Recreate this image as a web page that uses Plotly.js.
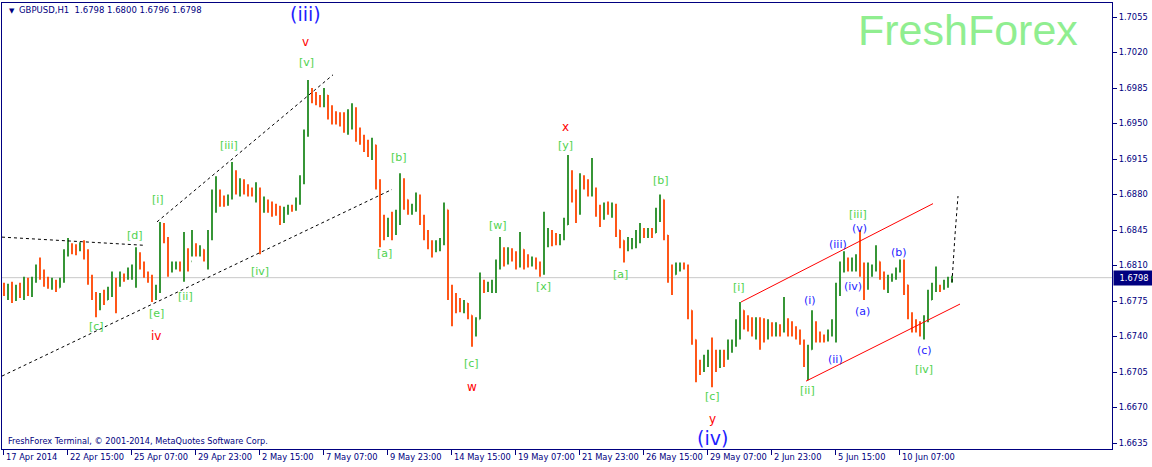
<!DOCTYPE html>
<html><head><meta charset="utf-8">
<script src="https://cdn.plot.ly/plotly-3.0.1.min.js"></script>
<style>html,body{margin:0;padding:0;background:#fff;}#chart{width:1152px;height:467px;}</style>
</head><body><div id="chart"></div>
<script>
// GBPUSD, bars aggregated to 4 hours
const openP = [
1.6788,1.6784,1.6788,1.6781,1.6787,1.6784,1.6793,1.6783,1.6794,1.6808,
1.6800,1.6795,1.6792,1.6795,1.6788,1.6794,1.6821,1.6829,1.6826,1.6826,
1.6829,1.6821,1.6796,1.6783,1.6771,1.6778,1.6776,1.6784,1.6796,1.6791,
1.6800,1.6798,1.6804,1.6806,1.6821,1.6811,1.6801,1.6796,1.6784,1.6786,
1.6845,1.6837,1.6808,1.6810,1.6811,1.6808,1.6821,1.6814,1.6830,1.6824,
1.6826,1.6818,1.6840,1.6875,1.6880,1.6875,1.6873,1.6877,1.6902,1.6887,
1.6893,1.6885,1.6883,1.6882,1.6885,1.6865,1.6872,1.6869,1.6865,1.6863,
1.6861,1.6862,1.6866,1.6865,1.6875,1.6895,1.6939,1.6983,1.6976,1.6973,
1.6971,1.6978,1.6962,1.6956,1.6954,1.6952,1.6949,1.6956,1.6964,1.6939,
1.6936,1.6929,1.6924,1.6929,1.6890,1.6847,1.6845,1.6850,1.6847,1.6853,
1.6895,1.6875,1.6867,1.6869,1.6877,1.6855,1.6840,1.6830,1.6826,1.6829,
1.6833,1.6865,1.6786,1.6773,1.6771,1.6770,1.6773,1.6761,1.6747,1.6757,
1.6791,1.6788,1.6790,1.6793,1.6808,1.6824,1.6816,1.6821,1.6818,1.6813,
1.6826,1.6814,1.6812,1.6815,1.6811,1.6806,1.6830,1.6837,1.6835,1.6835,
1.6837,1.6850,1.6899,1.6880,1.6865,1.6895,1.6892,1.6883,1.6885,1.6865,
1.6860,1.6868,1.6865,1.6869,1.6845,1.6835,1.6827,1.6832,1.6833,1.6840,
1.6843,1.6842,1.6844,1.6842,1.6860,1.6875,1.6840,1.6806,1.6801,1.6808,
1.6810,1.6809,1.6766,1.6737,1.6712,1.6709,1.6717,1.6721,1.6717,1.6715,
1.6722,1.6719,1.6732,1.6734,1.6752,1.6766,1.6755,1.6752,1.6747,1.6752,
1.6747,1.6742,1.6749,1.6744,1.6749,1.6747,1.6757,1.6747,1.6744,1.6742,
1.6735,1.6717,1.6727,1.6752,1.6739,1.6739,1.6737,1.6744,1.6752,1.6781,
1.6806,1.6813,1.6810,1.6813,1.6814,1.6806,1.6794,1.6806,1.6806,1.6814,
1.6801,1.6791,1.6796,1.6800,1.6804,1.6812,1.6791,1.6761,1.6752,1.6749,
1.6747,1.6757,1.6776,1.6786,1.6788,1.6787,1.6792,1.6795];
const highP = [
1.6793,1.6792,1.6794,1.6791,1.6793,1.6799,1.6798,1.6799,1.6811,1.6818,
1.6806,1.6799,1.6798,1.6796,1.6798,1.6826,1.6837,1.6832,1.6831,1.6833,
1.6835,1.6826,1.6801,1.6784,1.6783,1.6786,1.6789,1.6804,1.6798,1.6804,
1.6802,1.6808,1.6811,1.6828,1.6823,1.6814,1.6804,1.6801,1.6791,1.6853,
1.6852,1.6838,1.6814,1.6814,1.6814,1.6843,1.6827,1.6845,1.6832,1.6830,
1.6826,1.6845,1.6885,1.6898,1.6885,1.6879,1.6880,1.6912,1.6904,1.6896,
1.6895,1.6890,1.6887,1.6892,1.6887,1.6878,1.6875,1.6873,1.6871,1.6869,
1.6868,1.6870,1.6870,1.6877,1.6899,1.6944,1.6993,1.6985,1.6981,1.6978,
1.6985,1.6978,1.6968,1.6962,1.6961,1.6961,1.6964,1.6970,1.6966,1.6946,
1.6939,1.6934,1.6936,1.6929,1.6895,1.6860,1.6857,1.6863,1.6865,1.6901,
1.6896,1.6875,1.6871,1.6882,1.6880,1.6860,1.6845,1.6835,1.6835,1.6837,
1.6872,1.6865,1.6791,1.6783,1.6778,1.6776,1.6773,1.6761,1.6759,1.6803,
1.6796,1.6794,1.6796,1.6816,1.6838,1.6828,1.6828,1.6827,1.6824,1.6843,
1.6826,1.6821,1.6819,1.6818,1.6814,1.6863,1.6847,1.6845,1.6842,1.6841,
1.6857,1.6919,1.6904,1.6885,1.6901,1.6899,1.6895,1.6916,1.6887,1.6870,
1.6872,1.6873,1.6872,1.6871,1.6845,1.6835,1.6838,1.6837,1.6845,1.6852,
1.6847,1.6847,1.6847,1.6867,1.6880,1.6875,1.6840,1.6811,1.6813,1.6813,
1.6813,1.6811,1.6766,1.6737,1.6717,1.6722,1.6727,1.6739,1.6727,1.6727,
1.6727,1.6737,1.6737,1.6757,1.6774,1.6766,1.6761,1.6759,1.6759,1.6759,
1.6758,1.6757,1.6754,1.6754,1.6752,1.6779,1.6758,1.6755,1.6750,1.6747,
1.6737,1.6732,1.6766,1.6755,1.6745,1.6742,1.6747,1.6757,1.6793,1.6814,
1.6824,1.6818,1.6818,1.6821,1.6845,1.6813,1.6813,1.6811,1.6830,1.6814,
1.6804,1.6801,1.6802,1.6808,1.6816,1.6816,1.6791,1.6764,1.6757,1.6755,
1.6761,1.6786,1.6793,1.6809,1.6791,1.6796,1.6799,1.6800];
const lowP = [
1.6780,1.6776,1.6773,1.6775,1.6778,1.6776,1.6780,1.6779,1.6793,1.6796,
1.6789,1.6787,1.6786,1.6784,1.6788,1.6793,1.6819,1.6821,1.6820,1.6824,
1.6816,1.6791,1.6776,1.6759,1.6766,1.6771,1.6776,1.6779,1.6763,1.6789,
1.6794,1.6796,1.6796,1.6788,1.6806,1.6798,1.6793,1.6774,1.6776,1.6783,
1.6832,1.6799,1.6803,1.6806,1.6804,1.6794,1.6804,1.6819,1.6819,1.6819,
1.6814,1.6806,1.6835,1.6862,1.6868,1.6868,1.6869,1.6875,1.6880,1.6878,
1.6880,1.6878,1.6878,1.6872,1.6821,1.6862,1.6862,1.6858,1.6859,1.6850,
1.6852,1.6860,1.6863,1.6864,1.6870,1.6890,1.6937,1.6970,1.6968,1.6966,
1.6966,1.6954,1.6949,1.6949,1.6947,1.6941,1.6939,1.6944,1.6932,1.6929,
1.6922,1.6917,1.6914,1.6885,1.6828,1.6835,1.6838,1.6835,1.6840,1.6850,
1.6865,1.6860,1.6860,1.6863,1.6850,1.6835,1.6826,1.6818,1.6823,1.6824,
1.6830,1.6776,1.6750,1.6763,1.6764,1.6763,1.6757,1.6730,1.6740,1.6757,
1.6783,1.6784,1.6783,1.6783,1.6806,1.6809,1.6811,1.6814,1.6806,1.6808,
1.6806,1.6808,1.6809,1.6806,1.6799,1.6801,1.6828,1.6829,1.6830,1.6830,
1.6835,1.6850,1.6872,1.6852,1.6860,1.6885,1.6878,1.6878,1.6858,1.6848,
1.6855,1.6860,1.6857,1.6838,1.6827,1.6813,1.6824,1.6826,1.6827,1.6832,
1.6837,1.6837,1.6837,1.6842,1.6853,1.6835,1.6793,1.6781,1.6801,1.6804,
1.6806,1.6757,1.6732,1.6695,1.6702,1.6705,1.6710,1.6690,1.6705,1.6709,
1.6710,1.6717,1.6724,1.6730,1.6737,1.6747,1.6745,1.6740,1.6737,1.6727,
1.6734,1.6737,1.6740,1.6740,1.6740,1.6744,1.6740,1.6740,1.6737,1.6732,
1.6710,1.6697,1.6727,1.6734,1.6734,1.6734,1.6735,1.6740,1.6734,1.6780,
1.6803,1.6804,1.6804,1.6804,1.6799,1.6776,1.6786,1.6799,1.6804,1.6796,
1.6786,1.6783,1.6794,1.6796,1.6803,1.6781,1.6757,1.6744,1.6744,1.6740,
1.6737,1.6754,1.6776,1.6784,1.6784,1.6786,1.6788,1.6793];
const closeP = [
1.6784,1.6788,1.6781,1.6787,1.6784,1.6793,1.6783,1.6794,1.6808,1.6800,
1.6795,1.6792,1.6795,1.6788,1.6794,1.6821,1.6829,1.6826,1.6826,1.6829,
1.6821,1.6796,1.6783,1.6771,1.6778,1.6776,1.6784,1.6796,1.6791,1.6800,
1.6798,1.6804,1.6806,1.6821,1.6811,1.6801,1.6796,1.6784,1.6786,1.6845,
1.6837,1.6808,1.6810,1.6811,1.6808,1.6821,1.6814,1.6830,1.6824,1.6826,
1.6818,1.6840,1.6875,1.6880,1.6875,1.6873,1.6877,1.6902,1.6887,1.6893,
1.6885,1.6883,1.6882,1.6885,1.6865,1.6872,1.6869,1.6865,1.6863,1.6861,
1.6862,1.6866,1.6865,1.6875,1.6895,1.6939,1.6983,1.6976,1.6973,1.6971,
1.6978,1.6962,1.6956,1.6954,1.6952,1.6949,1.6956,1.6964,1.6939,1.6936,
1.6929,1.6924,1.6929,1.6890,1.6847,1.6845,1.6850,1.6847,1.6853,1.6895,
1.6875,1.6867,1.6869,1.6877,1.6855,1.6840,1.6830,1.6826,1.6829,1.6833,
1.6865,1.6786,1.6773,1.6771,1.6770,1.6773,1.6761,1.6747,1.6757,1.6791,
1.6788,1.6790,1.6793,1.6808,1.6824,1.6816,1.6821,1.6818,1.6813,1.6826,
1.6814,1.6812,1.6815,1.6811,1.6806,1.6830,1.6837,1.6835,1.6835,1.6837,
1.6850,1.6899,1.6880,1.6865,1.6895,1.6892,1.6883,1.6885,1.6865,1.6860,
1.6868,1.6865,1.6869,1.6845,1.6835,1.6827,1.6832,1.6833,1.6840,1.6843,
1.6842,1.6844,1.6842,1.6860,1.6875,1.6840,1.6806,1.6801,1.6808,1.6810,
1.6809,1.6766,1.6737,1.6712,1.6709,1.6717,1.6721,1.6717,1.6715,1.6722,
1.6719,1.6732,1.6734,1.6752,1.6766,1.6755,1.6752,1.6747,1.6752,1.6747,
1.6742,1.6749,1.6744,1.6749,1.6747,1.6757,1.6747,1.6744,1.6742,1.6735,
1.6717,1.6727,1.6752,1.6739,1.6739,1.6737,1.6744,1.6752,1.6781,1.6806,
1.6813,1.6810,1.6813,1.6814,1.6806,1.6794,1.6806,1.6806,1.6814,1.6801,
1.6791,1.6796,1.6800,1.6804,1.6812,1.6791,1.6761,1.6752,1.6749,1.6747,
1.6757,1.6776,1.6786,1.6788,1.6787,1.6792,1.6795,1.6798];

// date axis: tick positions in bar units (one bar = 4 hours, 16 bars = 64 hours)
const dateTickPos = [-0.25,15.75,31.75,47.75,63.75,79.75,95.75,111.75,127.75,143.75,159.75,175.75,191.75,207.75,223.75];
const dateTickText = ["17 Apr 2014","22 Apr 15:00","25 Apr 07:00","29 Apr 23:00","2 May 15:00","7 May 07:00","9 May 23:00","14 May 15:00","19 May 07:00","21 May 23:00","26 May 15:00","29 May 07:00","2 Jun 23:00","5 Jun 15:00","10 Jun 07:00"];
const priceTicks = [1.6635,1.6670,1.6705,1.6740,1.6775,1.6810,1.6845,1.6880,1.6915,1.6950,1.6985,1.7020,1.7055];
const lastPrice = 1.6798;

// wave labels: [text, bar position, price, style]
const waveLabels = [
 ["(iii)",75.25,1.7058,"bigblue"],["v",75.25,1.7030,"red"],["[v]",75.5,1.7010,"green"],
 ["[iii]",56.25,1.6928,"green"],["[i]",38.5,1.6875,"green"],["[d]",32.75,1.6840,"green"],
 ["[c]",23,1.6750,"green"],["[e]",38,1.6763,"green"],["iv",38,1.6741,"red"],
 ["[ii]",45.25,1.6779,"green"],["[iv]",64,1.6804,"green"],["[b]",98.75,1.6916,"green"],
 ["[a]",95,1.6822,"green"],["[c]",116.75,1.6713,"green"],["w",117,1.6690,"red"],
 ["[w]",123.5,1.6849,"green"],["[x]",134.75,1.6789,"green"],["[y]",140.25,1.6928,"green"],
 ["x",140.25,1.6947,"red"],["[b]",164.25,1.6894,"green"],["[a]",154,1.6801,"green"],
 ["[c]",177,1.6681,"green"],["y",177,1.6659,"red"],["(iv)",177,1.6640,"bigblue"],
 ["[i]",183.75,1.6788,"green"],["(i)",201.5,1.6776,"blue"],["(ii)",207.75,1.6717,"blue"],
 ["[ii]",200.75,1.6687,"green"],["(iii)",208.5,1.6831,"blue"],["[iii]",213.5,1.6860,"green"],
 ["(v)",213.75,1.6846,"blue"],["(iv)",212.25,1.6789,"blue"],["(a)",214.5,1.6765,"blue"],
 ["(b)",223.75,1.6823,"blue"],["(c)",230,1.6726,"blue"],["[iv]",230,1.6707,"green"]
];

// trend lines: [x0, y0, x1, y1, color, dash]
const trendLines = [
 [-0.5,1.6838,34.75,1.6830,"#000000","dot"],
 [-0.5,1.6701,97,1.6885,"#000000","dot"],
 [38.25,1.6853,82.25,1.6998,"#000000","dot"],
 [184.25,1.6774,232.25,1.6871,"#FF0000","solid"],
 [200.5,1.6696,239,1.6772,"#FF0000","solid"]
];
const projX = [237,237.75,238.5];
const projY = [1.67937,1.68401,1.68785];

const NAVY = '#000080';
const FONT = 'DejaVu Sans, sans-serif';
const barX = openP.map((_, i) => i);

const traces = [{
  type: 'ohlc', x: barX, open: openP, high: highP, low: lowP, close: closeP,
  increasing: {line: {color: '#228B22', width: 1.8}},
  decreasing: {line: {color: '#FF4500', width: 1.8}},
  tickwidth: 0.12, hoverinfo: 'skip', showlegend: false
}];

const shapes = [
  {type:'line', xref:'paper', yref:'y', x0:0, x1:1, y0:lastPrice, y1:lastPrice, line:{color:'#C8C8C8', width:1}, layer:'below'}
];
trendLines.forEach(t => shapes.push({type:'line', xref:'x', yref:'y', x0:t[0], y0:t[1], x1:t[2], y1:t[3], line:{color:t[4], width:1, dash:t[5]}}));
shapes.push({type:'path', xref:'x', yref:'y',
  path: 'M' + projX[0] + ',' + projY[0] + ' L' + projX[1] + ',' + projY[1] + ' L' + projX[2] + ',' + projY[2],
  line:{color:'#000000', width:1, dash:'dot'}});

const styleMap = {
  green: {color:'#4FD24F', size:11},
  red: {color:'#FF0000', size:12},
  blue: {color:'#1E1EFF', size:11},
  bigblue: {color:'#1E1EFF', size:19}
};
const annotations = waveLabels.map(w => ({
  x: w[1], y: w[2], xref:'x', yref:'y', text: w[0], showarrow:false,
  font: {family: FONT, size: styleMap[w[3]].size, color: styleMap[w[3]].color},
  xanchor:'center', yanchor:'middle'
}));

// pixel helpers for fixed texts (plot area 1110 x 446 starting at 2,3)
const px = X => (X - 2) / 1110;
const py = Y => (449 - Y) / 446;

dateTickPos.forEach((p, i) => annotations.push({
  x: p, xref:'x', y: 0, yref:'paper', yanchor:'top', xanchor:'left', xshift: 1, yshift: -1,
  text: dateTickText[i], showarrow:false, font:{family:FONT, size:8.3, color:NAVY}
}));
annotations.push({x: px(7), y: py(11), xref:'paper', yref:'paper', xanchor:'left', yanchor:'middle',
  text:'\u25BC', showarrow:false, font:{family:FONT, size:7, color:NAVY}});
annotations.push({x: px(17), y: py(10), xref:'paper', yref:'paper', xanchor:'left', yanchor:'middle',
  text:'GBPUSD,H1\u00A0\u00A01.6798 1.6800 1.6796 1.6798', showarrow:false, font:{family:FONT, size:8.5, color:NAVY}});
annotations.push({x: px(6), y: py(441), xref:'paper', yref:'paper', xanchor:'left', yanchor:'middle',
  text:'FreshForex Terminal, \u00A9 2001-2014, MetaQuotes Software Corp.', showarrow:false, font:{family:FONT, size:8.2, color:NAVY}});
annotations.push({x: px(856), y: py(30), xref:'paper', yref:'paper', xanchor:'left', yanchor:'middle',
  text:'FreshForex', showarrow:false, font:{family:'Liberation Sans, Arial, sans-serif', size:43, color:'#90EE90'}});
annotations.push({x: 1, y: lastPrice, xref:'paper', yref:'y', xanchor:'left', yanchor:'middle', xshift: 1,
  text: lastPrice.toFixed(4), showarrow:false, bgcolor: NAVY, width: 38, height: 12, borderpad: 1,
  font:{family:FONT, size:8.3, color:'#FFFFFF'}});

const layout = {
  width: 1152, height: 467,
  margin: {l:2, r:40, t:3, b:18, pad:0},
  paper_bgcolor:'#FFFFFF', plot_bgcolor:'#FFFFFF',
  showlegend:false,
  xaxis: {range:[-0.5, 277], showgrid:false, zeroline:false, fixedrange:true,
    rangeslider:{visible:false}, showline:true, mirror:true, linecolor:NAVY, linewidth:1,
    tickmode:'array', tickvals: dateTickPos, ticks:'outside', ticklen:5, tickcolor:NAVY, showticklabels:false},
  yaxis: {range:[1.66291, 1.70688], side:'right', showgrid:false, zeroline:false, fixedrange:true,
    showline:true, mirror:true, linecolor:NAVY, linewidth:1,
    tickmode:'array', tickvals: priceTicks, tickformat:'.4f', ticks:'outside', ticklen:4, tickcolor:NAVY,
    tickfont:{family:FONT, size:8.3, color:NAVY}},
  shapes: shapes, annotations: annotations
};
Plotly.newPlot('chart', traces, layout, {staticPlot:true, displayModeBar:false});
</script></body></html>
